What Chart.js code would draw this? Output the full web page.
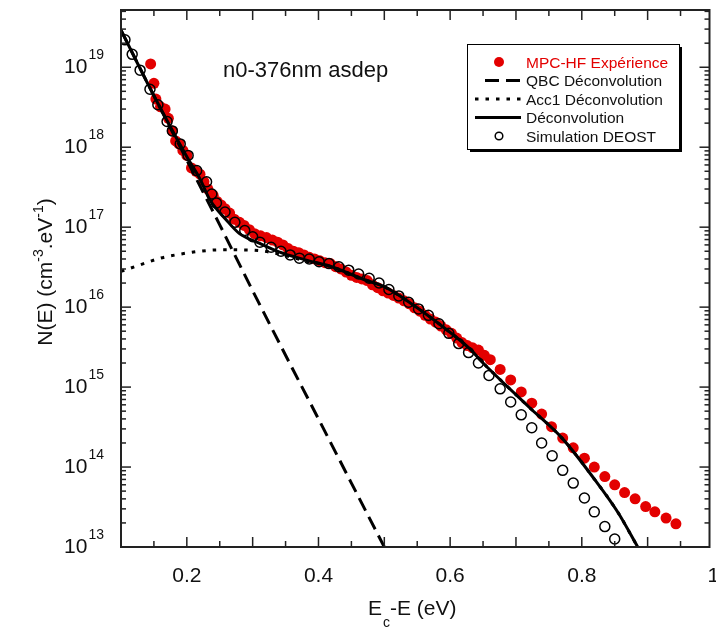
<!DOCTYPE html>
<html>
<head>
<meta charset="utf-8">
<script src="https://cdn.jsdelivr.net/npm/chart.js@4"></script>
<style>
    html, body { margin: 0; padding: 0; background: #fff; overflow: hidden; }
    #wrap { width: 716px; height: 630px; }
</style>
</head>
<body>
<div id="wrap"><canvas id="myChart"></canvas></div>
<script>
// MPC-HF experiment (red dots)
const mpcE = [0.145, 0.150, 0.153, 0.160, 0.167, 0.172, 0.178, 0.183, 0.188, 0.194, 0.200, 0.207, 0.214, 0.220, 0.226,
    0.232, 0.240, 0.246, 0.252, 0.258, 0.265, 0.272, 0.280, 0.287, 0.295, 0.303, 0.312, 0.321, 0.330, 0.338, 0.346,
    0.354, 0.362, 0.370, 0.378, 0.386, 0.394, 0.402, 0.410, 0.418, 0.426, 0.434, 0.442, 0.450, 0.458, 0.466, 0.474,
    0.482, 0.490, 0.498, 0.506, 0.514, 0.522, 0.530, 0.538, 0.546, 0.554, 0.562, 0.570, 0.578, 0.586, 0.594, 0.602,
    0.610, 0.618, 0.626, 0.634, 0.643, 0.652, 0.661, 0.676, 0.692, 0.708, 0.724, 0.739, 0.754, 0.771, 0.787, 0.804,
    0.819, 0.835, 0.850, 0.865, 0.881, 0.897, 0.911, 0.928, 0.943];
const mpcN = [1.1e19, 6.3e18, 4.0e18, 3.2e18, 3.0e18, 2.3e18, 1.6e18, 1.2e18, 1.1e18, 9.1e17, 7.9e17, 5.5e17, 5.0e17, 4.6e17, 3.7e17,
    3.0e17, 2.5e17, 2.1e17, 1.9e17, 1.7e17, 1.5e17, 1.26e17, 1.15e17, 1.05e17, 9.3e16, 8.3e16, 7.8e16, 7.4e16, 6.9e16, 6.5e16, 6.0e16,
    5.4e16, 5.0e16, 4.8e16, 4.5e16, 4.2e16, 4.0e16, 3.8e16, 3.6e16, 3.5e16, 3.2e16, 3.0e16, 2.75e16, 2.5e16, 2.35e16, 2.25e16, 2.15e16,
    1.9e16, 1.75e16, 1.6e16, 1.5e16, 1.4e16, 1.3e16, 1.2e16, 1.1e16, 9.8e15, 8.9e15, 7.9e15, 7.1e15, 6.5e15, 5.8e15, 5.2e15, 4.7e15,
    4.1e15, 3.6e15, 3.3e15, 3.1e15, 2.9e15, 2.5e15, 2.2e15, 1.66e15, 1.23e15, 8.7e14, 6.3e14, 4.6e14, 3.2e14, 2.3e14, 1.74e14, 1.29e14,
    1.0e14, 7.6e13, 6.0e13, 4.8e13, 4.0e13, 3.2e13, 2.75e13, 2.3e13, 1.95e13];

// QBC deconvolution (dashed)
const qbcE = [0.10, 0.15, 0.20, 0.25, 0.30, 0.35, 0.40, 0.45, 0.50];
const qbcN = [2.9e19, 4.4e18, 6.9e17, 1.07e17, 1.6e16, 2.5e15, 4.0e14, 6.3e13, 1.0e13];

// Acc1 deconvolution (dotted)
const accE = [0.10, 0.13, 0.16, 0.19, 0.22, 0.25, 0.28, 0.31, 0.34, 0.38, 0.42, 0.47, 0.50, 0.54, 0.59, 0.63, 0.65, 0.68,
    0.72, 0.77, 0.82, 0.855, 0.885];
const accN = [2.8e16, 3.4e16, 4.1e16, 4.6e16, 5.0e16, 5.2e16, 5.2e16, 5.1e16, 4.6e16, 3.8e16, 3.2e16, 2.2e16, 1.8e16, 1.12e16,
    5.6e15, 3.0e15, 2.0e15, 1.15e15, 5.6e14, 2.3e14, 6.9e13, 2.7e13, 1.0e13];

// total deconvolution (solid)
const decE = [0.10, 0.15, 0.20, 0.22, 0.235, 0.26, 0.28, 0.31, 0.34, 0.38, 0.42, 0.47, 0.50, 0.54, 0.59, 0.63, 0.65, 0.68,
    0.72, 0.77, 0.82, 0.855, 0.885];
const decN = [2.9e19, 4.4e18, 7.6e17, 4.0e17, 2.2e17, 1.23e17, 8.3e16, 6.3e16, 4.9e16, 3.9e16, 3.2e16, 2.2e16, 1.8e16, 1.12e16,
    5.6e15, 3.0e15, 2.0e15, 1.15e15, 5.6e14, 2.3e14, 6.9e13, 2.7e13, 1.0e13];

// DEOST simulation (open circles)
const simE = [0.106, 0.117, 0.129, 0.144, 0.156, 0.170, 0.178, 0.190, 0.202, 0.215, 0.230, 0.238, 0.245, 0.258, 0.273, 0.288,
    0.300, 0.311, 0.328, 0.343, 0.357, 0.371, 0.386, 0.401, 0.416, 0.431, 0.446, 0.461, 0.477, 0.492, 0.507, 0.522, 0.537,
    0.552, 0.567, 0.583, 0.598, 0.613, 0.628, 0.643, 0.659, 0.676, 0.692, 0.708, 0.724, 0.739, 0.755, 0.771, 0.787, 0.804,
    0.819, 0.835, 0.850];
const simN = [2.2e19, 1.45e19, 9.2e18, 5.3e18, 3.4e18, 2.1e18, 1.6e18, 1.1e18, 7.9e17, 5.1e17, 3.7e17, 2.6e17, 2.0e17, 1.55e17,
    1.15e17, 9.1e16, 7.6e16, 6.5e16, 5.6e16, 5.0e16, 4.5e16, 4.1e16, 4.0e16, 3.7e16, 3.5e16, 3.2e16, 2.9e16, 2.6e16, 2.3e16,
    2.0e16, 1.66e16, 1.38e16, 1.15e16, 9.5e15, 7.9e15, 6.2e15, 4.7e15, 3.5e15, 2.7e15, 2.0e15, 1.4e15, 9.5e14, 6.5e14, 4.5e14,
    3.1e14, 2.0e14, 1.38e14, 9.1e13, 6.3e13, 4.1e13, 2.75e13, 1.8e13, 1.26e13];

const xLabels = [0.2, 0.4, 0.6, 0.8, 1.0];
const yDecades = [13, 14, 15, 16, 17, 18, 19];

const FONT = "'Liberation Sans', Arial, sans-serif";
const RED = "#e30000";

function pts(xs, ys) {
    return xs.map((x, i) => ({ x: x, y: ys[i] }));
}

function seg(ctx, x1, y1, x2, y2) {
    ctx.beginPath();
    ctx.moveTo(x1, y1);
    ctx.lineTo(x2, y2);
    ctx.stroke();
}

const framePlugin = {
    id: "frame",
    afterDatasetsDraw(chart) {
        const ctx = chart.ctx;
        const xs = chart.scales.x, ys = chart.scales.y;
        const { left, right, top, bottom } = chart.chartArea;
        ctx.save();

        // ticks, pointing inward on all four sides
        ctx.strokeStyle = "#222";
        ctx.lineWidth = 1.5;
        for (let i = 3; i <= 20; i++) {
            const v = i * 0.05;
            if (v > xs.max + 1e-9) break;
            const px = xs.getPixelForValue(v);
            const len = i % 2 === 0 ? 10 : 6;
            seg(ctx, px, bottom, px, bottom - len);
            seg(ctx, px, top, px, top + len);
        }
        for (let d = 13; d <= 19; d++) {
            for (let m = 1; m <= 9; m++) {
                const v = m * Math.pow(10, d);
                if (v > ys.max) break;
                const py = ys.getPixelForValue(v);
                const len = m === 1 ? 10 : 5;
                seg(ctx, left, py, left + len, py);
                seg(ctx, right, py, right - len, py);
            }
        }

        // frame
        ctx.lineWidth = 2;
        ctx.strokeRect(left, top, right - left, bottom - top);

        // x tick labels
        ctx.fillStyle = "#111";
        ctx.font = "21px " + FONT;
        ctx.textAlign = "center";
        ctx.textBaseline = "alphabetic";
        xLabels.forEach(v => {
            ctx.fillText(v === 1 ? "1" : v.toFixed(1), xs.getPixelForValue(v), 582);
        });

        // y tick labels 10^n
        yDecades.forEach(d => {
            const py = ys.getPixelForValue(Math.pow(10, d));
            ctx.font = "14px " + FONT;
            ctx.textAlign = "right";
            const sw = ctx.measureText(String(d)).width;
            ctx.fillText(String(d), 104, py - 8);
            ctx.font = "21px " + FONT;
            ctx.fillText("10", 104 - sw - 1, py + 6);
        });

        // x axis title E_c-E (eV)
        ctx.textAlign = "left";
        ctx.font = "21px " + FONT;
        let x0 = 368;
        ctx.fillText("E", x0, 615);
        x0 += ctx.measureText("E").width;
        ctx.font = "14px " + FONT;
        ctx.fillText("c", x0 + 1, 627);
        x0 += ctx.measureText("c").width + 1;
        ctx.font = "21px " + FONT;
        ctx.fillText("-E (eV)", x0, 615);

        // y axis title, rotated
        const parts = [
            ["N(E) (cm", 21, 0], ["-3", 14, -9], [".eV", 21, 0], ["-1", 14, -9], [")", 21, 0]
        ];
        let total = 0;
        parts.forEach(p => { ctx.font = p[1] + "px " + FONT; total += ctx.measureText(p[0]).width; });
        ctx.translate(52, 272);
        ctx.rotate(-Math.PI / 2);
        let tx = -total / 2;
        parts.forEach(p => {
            ctx.font = p[1] + "px " + FONT;
            ctx.fillText(p[0], tx, p[2]);
            tx += ctx.measureText(p[0]).width;
        });
        ctx.setTransform(1, 0, 0, 1, 0, 0);

        // sample title
        ctx.font = "22px " + FONT;
        ctx.fillStyle = "#111";
        ctx.fillText("n0-376nm asdep", 223, 77);

        // legend box with shadow
        const bx = 467, by = 44, bw = 212, bh = 105;
        ctx.fillStyle = "#000";
        ctx.fillRect(bx + 3, by + 3, bw, bh);
        ctx.fillStyle = "#fff";
        ctx.fillRect(bx, by, bw, bh);
        ctx.lineWidth = 1;
        ctx.strokeStyle = "#000";
        ctx.strokeRect(bx + 0.5, by + 0.5, bw, bh);

        const ds = chart.data.datasets;
        ctx.font = "15.5px " + FONT;
        ds.forEach((d, i) => {
            const ry = 62 + i * 18.5;
            ctx.save();
            if (d.showLine) {
                ctx.strokeStyle = d.borderColor;
                ctx.lineWidth = 3;
                ctx.setLineDash(d.borderDash || []);
                const sx = d.borderDash && d.borderDash[0] > 10 ? 485 : 475;
                seg(ctx, sx, ry, 521, ry);
            } else {
                ctx.beginPath();
                ctx.arc(499, ry, d.pointBorderWidth ? 3.8 : 5, 0, Math.PI * 2);
                if (d.pointBorderWidth) {
                    ctx.lineWidth = 1.5;
                    ctx.strokeStyle = "#000";
                    ctx.stroke();
                } else {
                    ctx.fillStyle = d.pointBackgroundColor;
                    ctx.fill();
                }
            }
            ctx.restore();
            ctx.fillStyle = d.legendColor;
            ctx.textAlign = "left";
            ctx.fillText(d.label, 526, ry + 5.5);
        });

        ctx.restore();
    }
};

const ctx = document.getElementById("myChart").getContext("2d");

new Chart(ctx, {
    type: "scatter",
    data: {
        datasets: [{
            label: "MPC-HF Expérience",
            data: pts(mpcE, mpcN),
            showLine: false,
            pointRadius: 5.5,
            pointBackgroundColor: RED,
            pointBorderWidth: 0,
            legendColor: RED,
            order: 4
        }, {
            label: "QBC Déconvolution",
            data: pts(qbcE, qbcN),
            showLine: true,
            borderColor: "#000",
            borderWidth: 3,
            borderDash: [14, 7],
            pointRadius: 0,
            tension: 0,
            legendColor: "#111",
            order: 2
        }, {
            label: "Acc1 Déconvolution",
            data: pts(accE, accN),
            showLine: true,
            borderColor: "#000",
            borderWidth: 3,
            borderDash: [3.5, 7],
            pointRadius: 0,
            cubicInterpolationMode: "monotone",
            legendColor: "#111",
            order: 3
        }, {
            label: "Déconvolution",
            data: pts(decE, decN),
            showLine: true,
            borderColor: "#000",
            borderWidth: 3,
            pointRadius: 0,
            cubicInterpolationMode: "monotone",
            legendColor: "#111",
            order: 1
        }, {
            label: "Simulation DEOST",
            data: pts(simE, simN),
            showLine: false,
            pointRadius: 5,
            pointBackgroundColor: "rgba(0,0,0,0)",
            pointBorderColor: "#000",
            pointBorderWidth: 1.5,
            legendColor: "#111",
            order: 0
        }]
    },
    options: {
        responsive: true,
        maintainAspectRatio: false,
        animation: false,
        events: [],
        layout: { padding: { left: 121, right: 4, top: 10, bottom: 83 } },
        plugins: {
            legend: { display: false },
            tooltip: { enabled: false }
        },
        scales: {
            x: { type: "linear", min: 0.1, max: 0.994, display: false },
            y: { type: "logarithmic", min: 1e13, max: 5.2e19, display: false }
        }
    },
    plugins: [framePlugin]
});
</script>
</body>
</html>
